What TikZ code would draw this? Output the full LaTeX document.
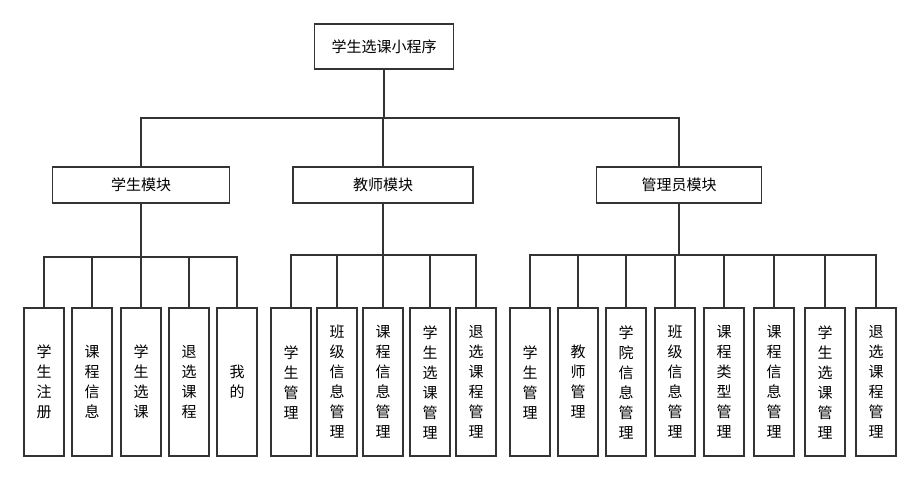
\documentclass[tikz,border=0pt]{standalone}
\usepackage{fontspec}
\newfontfamily\cjk{Noto Sans CJK SC}
\definecolor{ln}{HTML}{333333}
\begin{document}
\begin{tikzpicture}[x=1pt,y=-1pt,
  box/.style={draw=ln,line width=1.5pt,inner sep=0pt,font=\cjk\fontsize{15}{18}\selectfont,text=black},
  leaf/.style={box,minimum width=40pt,minimum height=148pt,align=center,font=\cjk\fontsize{15}{20}\selectfont},
  conn/.style={draw=ln,line width=1.6pt},
  stem/.style={draw=ln,line width=2pt}]
\useasboundingbox (0,0) rectangle (919,481);
\node[box,minimum width=139pt,minimum height=45pt] (top) at (384,46.5) {学生选课小程序};
\node[box,minimum width=177pt,minimum height=36pt] (m1) at (141,185) {学生模块};
\node[box,minimum width=180pt,minimum height=36pt] (m2) at (383,185) {教师模块};
\node[box,minimum width=165pt,minimum height=36pt] (m3) at (679,185) {管理员模块};
\coordinate (tb) at (384,118);
\draw[stem] (top.south) -- (top.south |- tb);
\draw[conn] (m1.north) -- (m1.north |- tb) -- (m3.north |- tb) -- (m3.north);
\draw[conn] (m2.north) -- (m2.north |- tb);
% student leaves
\node[leaf] (s1) at (44,382) {学\\生\\注\\册};
\node[leaf] (s2) at (92,382) {课\\程\\信\\息};
\node[leaf] (s3) at (141,382) {学\\生\\选\\课};
\node[leaf] (s4) at (189,382) {退\\选\\课\\程};
\node[leaf] (s5) at (237,382) {我\\的};
% teacher leaves
\node[leaf] (t1) at (291,382) {学\\生\\管\\理};
\node[leaf] (t2) at (337,382) {班\\级\\信\\息\\管\\理};
\node[leaf] (t3) at (383,382) {课\\程\\信\\息\\管\\理};
\node[leaf] (t4) at (430,382) {学\\生\\选\\课\\管\\理};
\node[leaf] (t5) at (476,382) {退\\选\\课\\程\\管\\理};
% admin leaves
\node[leaf] (a1) at (530,382) {学\\生\\管\\理};
\node[leaf] (a2) at (578,382) {教\\师\\管\\理};
\node[leaf] (a3) at (626,382) {学\\院\\信\\息\\管\\理};
\node[leaf] (a4) at (675,382) {班\\级\\信\\息\\管\\理};
\node[leaf] (a5) at (724,382) {课\\程\\类\\型\\管\\理};
\node[leaf] (a6) at (774,382) {课\\程\\信\\息\\管\\理};
\node[leaf] (a7) at (825,382) {学\\生\\选\\课\\管\\理};
\node[leaf] (a8) at (876,382) {退\\选\\课\\程\\管\\理};
% student connectors
\coordinate (sb) at (141,257);
\draw[stem] (m1.south) -- (m1.south |- sb);
\draw[conn] (s1.north) -- (s1.north |- sb) -- (s5.north |- sb) -- (s5.north);
\foreach \n in {s2,s3,s4} \draw[conn] (\n.north) -- (\n.north |- sb);
% teacher connectors
\coordinate (tbb) at (383,255);
\draw[stem] (m2.south) -- (m2.south |- tbb);
\draw[conn] (t1.north) -- (t1.north |- tbb) -- (t5.north |- tbb) -- (t5.north);
\foreach \n in {t2,t3,t4} \draw[conn] (\n.north) -- (\n.north |- tbb);
% admin connectors
\coordinate (ab) at (679,255);
\draw[stem] (m3.south) -- (m3.south |- ab);
\draw[conn] (a1.north) -- (a1.north |- ab) -- (a8.north |- ab) -- (a8.north);
\foreach \n in {a2,a3,a4,a5,a6,a7} \draw[conn] (\n.north) -- (\n.north |- ab);
\end{tikzpicture}
\end{document}
